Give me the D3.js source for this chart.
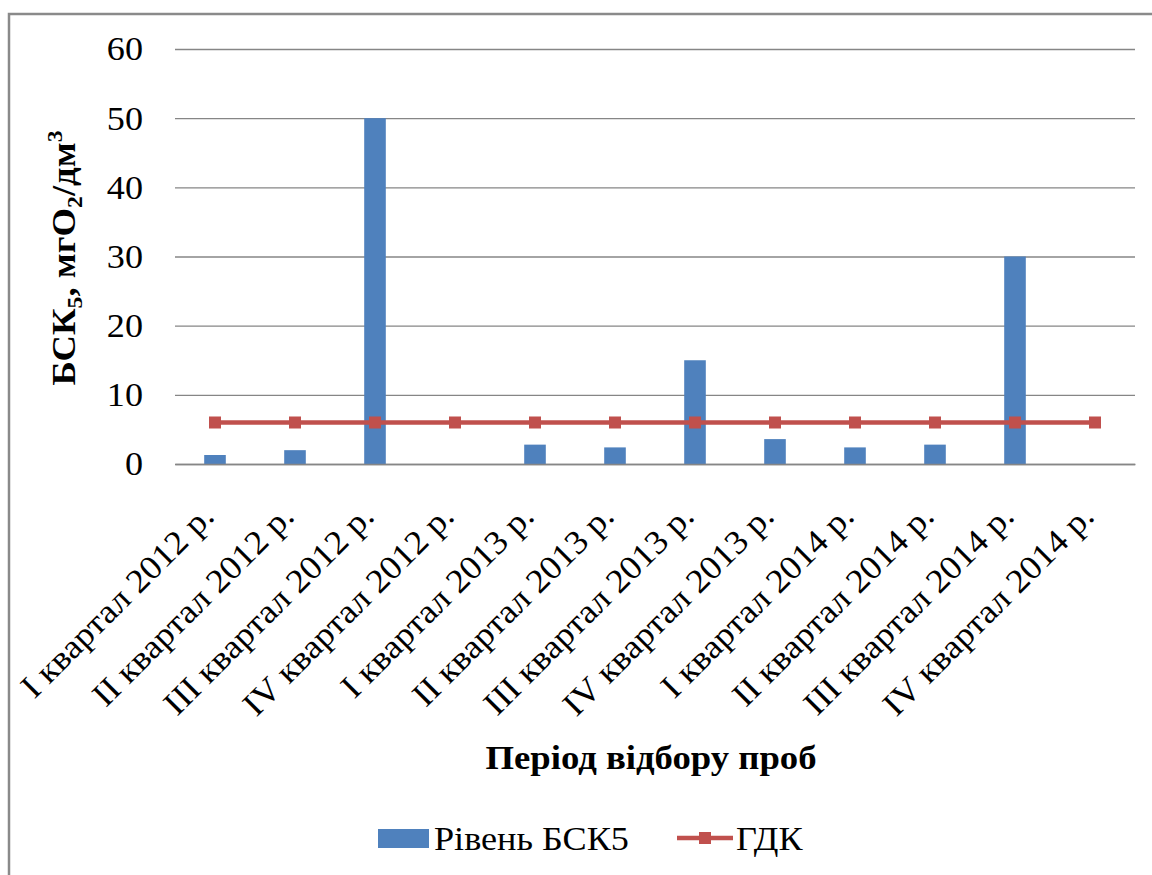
<!DOCTYPE html>
<html>
<head>
<meta charset="utf-8">
<script src="https://cdn.jsdelivr.net/npm/d3@7"></script>
<style>
  html, body { margin: 0; padding: 0; background: #fff; }
  svg { display: block; }
  text { font-family: "Liberation Serif", "Times New Roman", serif; fill: #000; }
</style>
</head>
<body>
<svg id="chart" width="1152" height="875"></svg>
<script>
// Quarterly sampling periods
const categories = [
  "I квартал 2012 р.", "II квартал 2012 р.", "III квартал 2012 р.", "IV квартал 2012 р.",
  "I квартал 2013 р.", "II квартал 2013 р.", "III квартал 2013 р.", "IV квартал 2013 р.",
  "I квартал 2014 р.", "II квартал 2014 р.", "III квартал 2014 р.", "IV квартал 2014 р."
];
// Measured BOD5 level, mgO2/dm3 (null = no measurement)
const bodLevel = [1.3, 2.0, 50, null, 2.8, 2.4, 15, 3.6, 2.4, 2.8, 30, null];
// Maximum permissible concentration
const mpcLevel = [6, 6, 6, 6, 6, 6, 6, 6, 6, 6, 6, 6];
const yTicks = [0, 10, 20, 30, 40, 50, 60];
const seriesNames = ["Рівень БСК5", "ГДК"];

const svg = d3.select("#chart");
const W = 1152, H = 875;
const plot = { left: 175, right: 1135, top: 49, bottom: 464 };
const barColor = "#4F81BD", lineColor = "#C0504D", gridColor = "#868686";
const FONT = 33.5, STRETCH = 1.08;   // text is drawn slightly widened

// Outer chart frame
svg.append("rect")
  .attr("x", 9).attr("y", 14).attr("width", W + 20).attr("height", H + 20)
  .attr("fill", "#fff").attr("stroke", "#8a8a8a").attr("stroke-width", 2.5);

const x = d3.scaleBand().domain(categories)
  .range([plot.left, plot.right]).paddingInner(0.73).paddingOuter(0.365);
const xc = d => x(d) + x.bandwidth() / 2;
const y = d3.scaleLinear().domain([0, 60]).range([plot.bottom, plot.top]);

// Horizontal gridlines
const yAxis = svg.append("g").attr("transform", `translate(${plot.left},0)`)
  .call(d3.axisLeft(y).tickValues(yTicks).tickSize(-(plot.right - plot.left)).tickFormat(""));
yAxis.select(".domain").remove();
yAxis.selectAll(".tick line").attr("stroke", gridColor).attr("stroke-width", 1.3);

// Y tick labels
svg.append("g").selectAll("text").data(yTicks).join("text")
  .attr("text-anchor", "end").attr("dy", "0.34em")
  .attr("transform", d => `translate(143,${y(d)}) scale(${STRETCH},1)`)
  .style("font-size", FONT + "px")
  .text(d => d);

// Bars
svg.append("g").selectAll("rect")
  .data(categories.map((c, i) => ({ c, v: bodLevel[i] })).filter(d => d.v != null))
  .join("rect")
  .attr("x", d => x(d.c)).attr("width", x.bandwidth())
  .attr("y", d => y(d.v)).attr("height", d => y(0) - y(d.v))
  .attr("fill", barColor);

// Category axis line
const xAxis = svg.append("g").attr("transform", `translate(0,${plot.bottom})`)
  .call(d3.axisBottom(x).tickSize(0).tickFormat(""));
xAxis.select(".domain").attr("stroke", gridColor).attr("stroke-width", 1.5);

// Rotated category labels
svg.append("g").selectAll("text")
  .data(categories).join("text")
  .attr("text-anchor", "end")
  .attr("transform", d => `translate(${xc(d) + 1},${plot.bottom + 54}) rotate(-45) scale(${STRETCH},1)`)
  .style("font-size", FONT + "px")
  .text(d => d);

// MPC line with square markers
const mpc = categories.map((c, i) => ({ c, v: mpcLevel[i] }));
svg.append("path").datum(mpc)
  .attr("fill", "none").attr("stroke", lineColor).attr("stroke-width", 4.5)
  .attr("d", d3.line().x(d => xc(d.c)).y(d => y(d.v)));
svg.append("g").selectAll("rect").data(mpc).join("rect")
  .attr("x", d => xc(d.c) - 6).attr("y", d => y(d.v) - 6)
  .attr("width", 12).attr("height", 12).attr("fill", lineColor);

// Axis titles
svg.append("text")
  .attr("text-anchor", "middle")
  .attr("transform", `translate(651,769) scale(${STRETCH},1)`)
  .style("font-size", "34px").style("font-weight", "bold")
  .text("Період відбору проб");

const yt = svg.append("text")
  .attr("transform", `translate(75,258) rotate(-90) scale(${STRETCH},1)`)
  .attr("text-anchor", "middle")
  .style("font-size", "34px").style("font-weight", "bold");
yt.append("tspan").text("БСК");
yt.append("tspan").attr("dy", 7).style("font-size", "22px").text("5");
yt.append("tspan").attr("dy", -7).text(", мгО");
yt.append("tspan").attr("dy", 7).style("font-size", "22px").text("2");
yt.append("tspan").attr("dy", -7).text("/дм");
yt.append("tspan").attr("dy", -13).style("font-size", "22px").text("3");

// Legend
const lg = svg.append("g");
lg.append("rect").attr("x", 378).attr("y", 829).attr("width", 51).attr("height", 19).attr("fill", barColor);
lg.append("text").attr("transform", `translate(434,850) scale(${STRETCH},1)`)
  .style("font-size", FONT + "px").text(seriesNames[0]);
lg.append("line").attr("x1", 677).attr("x2", 733).attr("y1", 838).attr("y2", 838)
  .attr("stroke", lineColor).attr("stroke-width", 4.5);
lg.append("rect").attr("x", 699).attr("y", 832).attr("width", 12).attr("height", 12).attr("fill", lineColor);
lg.append("text").attr("transform", `translate(736,850) scale(${STRETCH},1)`)
  .style("font-size", FONT + "px").text(seriesNames[1]);
</script>
</body>
</html>
